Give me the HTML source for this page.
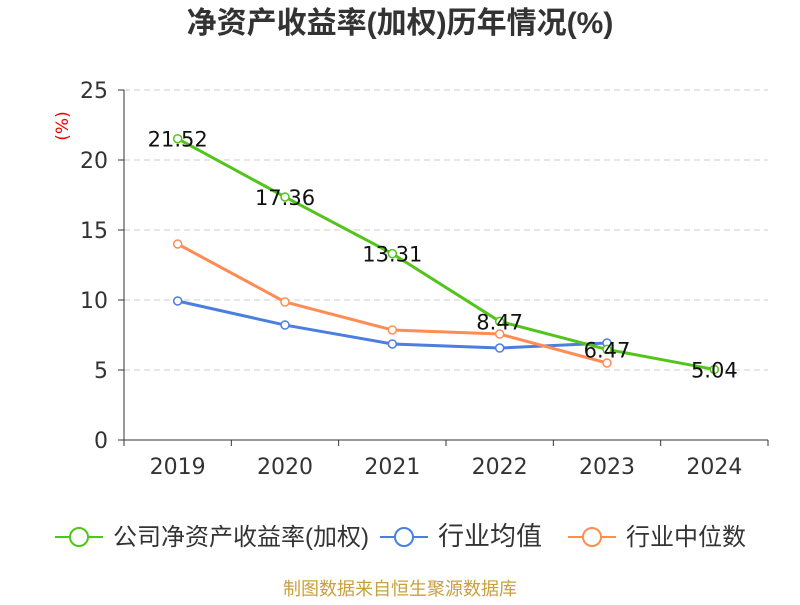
<!DOCTYPE html>
<html><head><meta charset="utf-8"><style>
body{margin:0;background:#fff;}
svg text{font-family:"DejaVu Sans","Noto Sans CJK SC",sans-serif;}
</style></head><body>
<svg id="chart" width="800" height="600">
<text x="400" y="33" text-anchor="middle" font-size="30" font-weight="bold" fill="#333" style="font-family:'Liberation Sans','Noto Sans CJK SC',sans-serif">净资产收益率(加权)历年情况(%)</text>
<text transform="translate(68,126) rotate(-90)" text-anchor="middle" font-size="17" fill="#e00">(%)</text>
<g id="grid"></g><g id="axes"></g><g id="series"></g>
<g>
<g><line x1="55" y1="537" x2="103" y2="537" stroke="#52c41a" stroke-width="2"/><circle cx="79" cy="537" r="9" fill="#fff" stroke="#52c41a" stroke-width="2"/><text x="113" y="545" font-size="24" fill="#333" style="font-family:'Liberation Sans','Noto Sans CJK SC',sans-serif">公司净资产收益率(加权)</text></g>
<g><line x1="380" y1="537" x2="428" y2="537" stroke="#4a7ee0" stroke-width="2"/><circle cx="404" cy="537" r="9" fill="#fff" stroke="#4a7ee0" stroke-width="2"/><text x="438" y="545" font-size="26" fill="#333" style="font-family:'Liberation Sans','Noto Sans CJK SC',sans-serif">行业均值</text></g>
<g><line x1="568" y1="537" x2="616" y2="537" stroke="#ff8c55" stroke-width="2"/><circle cx="592" cy="537" r="9" fill="#fff" stroke="#ff8c55" stroke-width="2"/><text x="626" y="545" font-size="24" fill="#333" style="font-family:'Liberation Sans','Noto Sans CJK SC',sans-serif">行业中位数</text></g>
</g>
<text x="400" y="595" text-anchor="middle" font-size="18" fill="#c9a03a" style="font-family:'Liberation Sans','Noto Sans CJK SC',sans-serif">制图数据来自恒生聚源数据库</text>
</svg>
<script>
const categories=["2019","2020","2021","2022","2023","2024"];
const roeValues=[21.52,17.36,13.31,8.47,6.47,5.04];
const avgValues=[9.93,8.21,6.86,6.57,6.93,null];
const medianValues=[14.0,9.86,7.86,7.57,5.5,null];
const yTicks=[0,5,10,15,20,25];
const NS="http://www.w3.org/2000/svg";
const x0=124,x1=768,y0=440,yTop=90,yMax=25;
const bw=(x1-x0)/categories.length;
const xs=i=>x0+bw*(i+0.5);
const ys=v=>y0-(v/yMax)*(y0-yTop);
function mk(tag,attrs,parent){const e=document.createElementNS(NS,tag);for(const k in attrs)e.setAttribute(k,attrs[k]);parent.appendChild(e);return e;}
const grid=document.getElementById('grid'),axes=document.getElementById('axes'),ser=document.getElementById('series');
yTicks.forEach(t=>{
  if(t>0){const g=mk('line',{x1:x0,x2:x1,y1:ys(t),y2:ys(t),stroke:'#ccc','stroke-dasharray':'6,4'},grid);
  
  }
  mk('line',{x1:x0-6,x2:x0,y1:ys(t),y2:ys(t),stroke:'#333'},axes);
  const l=mk('text',{x:x0-16,y:ys(t)+8,'text-anchor':'end','font-size':'22',fill:'#333'},axes);l.textContent=t;
  
  
});
mk('line',{x1:x0,x2:x0,y1:yTop,y2:y0,stroke:'#333'},axes);
mk('line',{x1:x0,x2:x1,y1:y0,y2:y0,stroke:'#333'},axes);
for(let i=0;i<=categories.length;i++)mk('line',{x1:x0+bw*i,x2:x0+bw*i,y1:y0,y2:y0+6,stroke:'#333'},axes);
categories.forEach((c,i)=>{const l=mk('text',{x:xs(i),y:474,'text-anchor':'middle','font-size':'22',fill:'#333'},axes);l.textContent=c;
  
  });
function series(vals,color,name){
  const pts=vals.map((v,i)=>v==null?null:[xs(i),ys(v)]).filter(p=>p);
  const p=mk('polyline',{points:pts.map(q=>q.join(',')).join(' '),fill:'none',stroke:color,'stroke-width':'3'},ser);
  
  
  vals.forEach((v,i)=>{if(v==null)return;
    const c=mk('circle',{cx:xs(i),cy:ys(v),r:4,fill:'#fff',stroke:color,'stroke-width':'1.5'},ser);
    
    
  });
}
series(avgValues,'#4a7ee0','industry-avg');
series(medianValues,'#ff8c55','industry-median');
series(roeValues,'#52c41a','roe');
roeValues.forEach((v,i)=>{const t=mk('text',{x:xs(i),y:ys(v)+8,'text-anchor':'middle','font-size':'21',fill:'#111'},ser);t.textContent=v.toFixed(2);
  
  });
</script>
</body></html>
